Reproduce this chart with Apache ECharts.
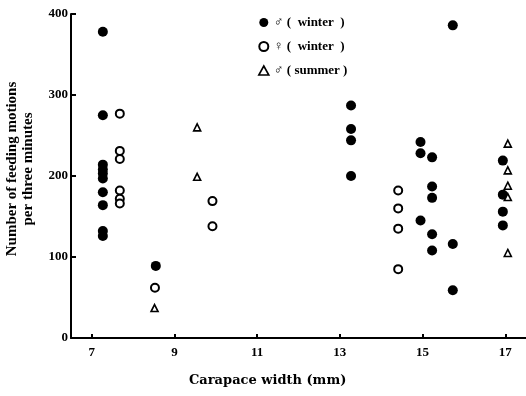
<!DOCTYPE html>
<html>
<head>
<meta charset="utf-8">
<script src="https://cdn.jsdelivr.net/npm/echarts@6/dist/echarts.min.js"></script>
<style>
  html, body { margin: 0; padding: 0; background: #fff; }
  #chart { width: 526px; height: 396px; }
</style>
</head>
<body>
<div id="chart"></div>
<script>
// Carapace width (mm) and feeding motions per three minutes, by group
var maleWinterWidth = [7.27, 7.27, 7.27, 7.27, 7.27, 7.27, 7.27, 7.27, 7.27, 7.27,
                       8.55,
                       13.27, 13.27, 13.27, 13.27,
                       14.95, 14.95, 14.95,
                       15.23, 15.23, 15.23, 15.23, 15.23,
                       15.73, 15.73, 15.73,
                       16.94, 16.94, 16.94, 16.94];
var maleWinterCount = [378, 275, 214, 208, 203, 197, 180, 164, 132, 126,
                       89,
                       287, 258, 244, 200,
                       242, 228, 145,
                       223, 187, 173, 128, 108,
                       386, 116, 59,
                       219, 177, 156, 139];

var femaleWinterWidth = [7.68, 7.68, 7.68, 7.68, 7.68, 7.68, 8.53, 9.92, 9.92, 14.41, 14.41, 14.41, 14.41];
var femaleWinterCount = [277, 231, 221, 182, 172, 166, 62, 169, 138, 182, 160, 135, 85];

var maleSummerWidth = [8.52, 9.55, 9.55, 17.06, 17.06, 17.06, 17.06, 17.06];
var maleSummerCount = [37, 260, 199, 240, 207, 188, 174, 105];

var xTicks = [7, 9, 11, 13, 15, 17];
var seriesNames = ['\u2642 (  winter  )', '\u2640 (  winter  )', '\u2642 ( summer )'];

function pairs(xs, ys) {
  return xs.map(function (x, i) { return [x, ys[i]]; });
}

var FONT = '"Liberation Serif", "DejaVu Serif", serif';

var chart = echarts.init(document.getElementById('chart'), null, { renderer: 'canvas' });

chart.setOption({
  backgroundColor: '#ffffff',
  animation: false,
  grid: { left: 71, right: 0, top: 14, bottom: 58, outerBoundsMode: 'none', containLabel: false },
  legend: {
    orient: 'vertical',
    left: 253,
    top: 11,
    itemWidth: 10,
    itemHeight: 9,
    itemGap: 11,
    textStyle: { fontFamily: FONT, fontWeight: 'bold', fontSize: 13, color: '#000' },
    data: [
      { name: seriesNames[0], icon: 'circle', itemStyle: { color: '#000', borderWidth: 0 } },
      { name: seriesNames[1], icon: 'circle', itemStyle: { color: '#fff', borderColor: '#000', borderWidth: 2 } },
      { name: seriesNames[2], icon: 'triangle', itemStyle: { color: '#fff', borderColor: '#000', borderWidth: 1.6 } }
    ]
  },
  xAxis: {
    type: 'value',
    min: 6.5,
    max: 17.5,
    splitLine: { show: false },
    axisLine: { onZero: false, lineStyle: { color: '#000', width: 2 } },
    axisTick: { inside: true, length: 4, lineStyle: { color: '#000', width: 2 }, customValues: xTicks },
    axisLabel: { customValues: xTicks, margin: 8, color: '#000', fontFamily: FONT, fontWeight: 'bold', fontSize: 13 }
  },
  yAxis: {
    type: 'value',
    min: 0,
    max: 400,
    interval: 100,
    splitLine: { show: false },
    axisLine: { onZero: false, lineStyle: { color: '#000', width: 2 } },
    axisTick: { inside: true, length: 5, lineStyle: { color: '#000', width: 2 } },
    axisLabel: { margin: 3, color: '#000', fontFamily: FONT, fontWeight: 'bold', fontSize: 13 },
    name: 'Number of feeding motions\nper three minutes',
    nameLocation: 'middle',
    nameGap: 35,
    nameTextStyle: { color: '#000', fontFamily: FONT, fontWeight: 'bold', fontSize: 15, lineHeight: 16, padding: [0, 0, 0, 14] }
  },
  graphic: [{
    type: 'text',
    left: 189,
    top: 374,
    style: {
      text: 'Carapace width (mm)',
      fill: '#000',
      font: 'bold 13px "DejaVu Serif", serif'
    }
  }],
  series: [
    {
      name: seriesNames[0],
      type: 'scatter',
      symbol: 'circle',
      symbolSize: 10,
      itemStyle: { color: '#000', opacity: 1 },
      data: pairs(maleWinterWidth, maleWinterCount)
    },
    {
      name: seriesNames[1],
      type: 'scatter',
      symbol: 'circle',
      symbolSize: 8,
      itemStyle: { color: '#fff', borderColor: '#000', borderWidth: 2, opacity: 1 },
      data: pairs(femaleWinterWidth, femaleWinterCount)
    },
    {
      name: seriesNames[2],
      type: 'scatter',
      symbol: 'triangle',
      symbolSize: 7,
      itemStyle: { color: '#fff', borderColor: '#000', borderWidth: 1.6, opacity: 1 },
      data: pairs(maleSummerWidth, maleSummerCount)
    }
  ]
});
</script>
</body>
</html>
